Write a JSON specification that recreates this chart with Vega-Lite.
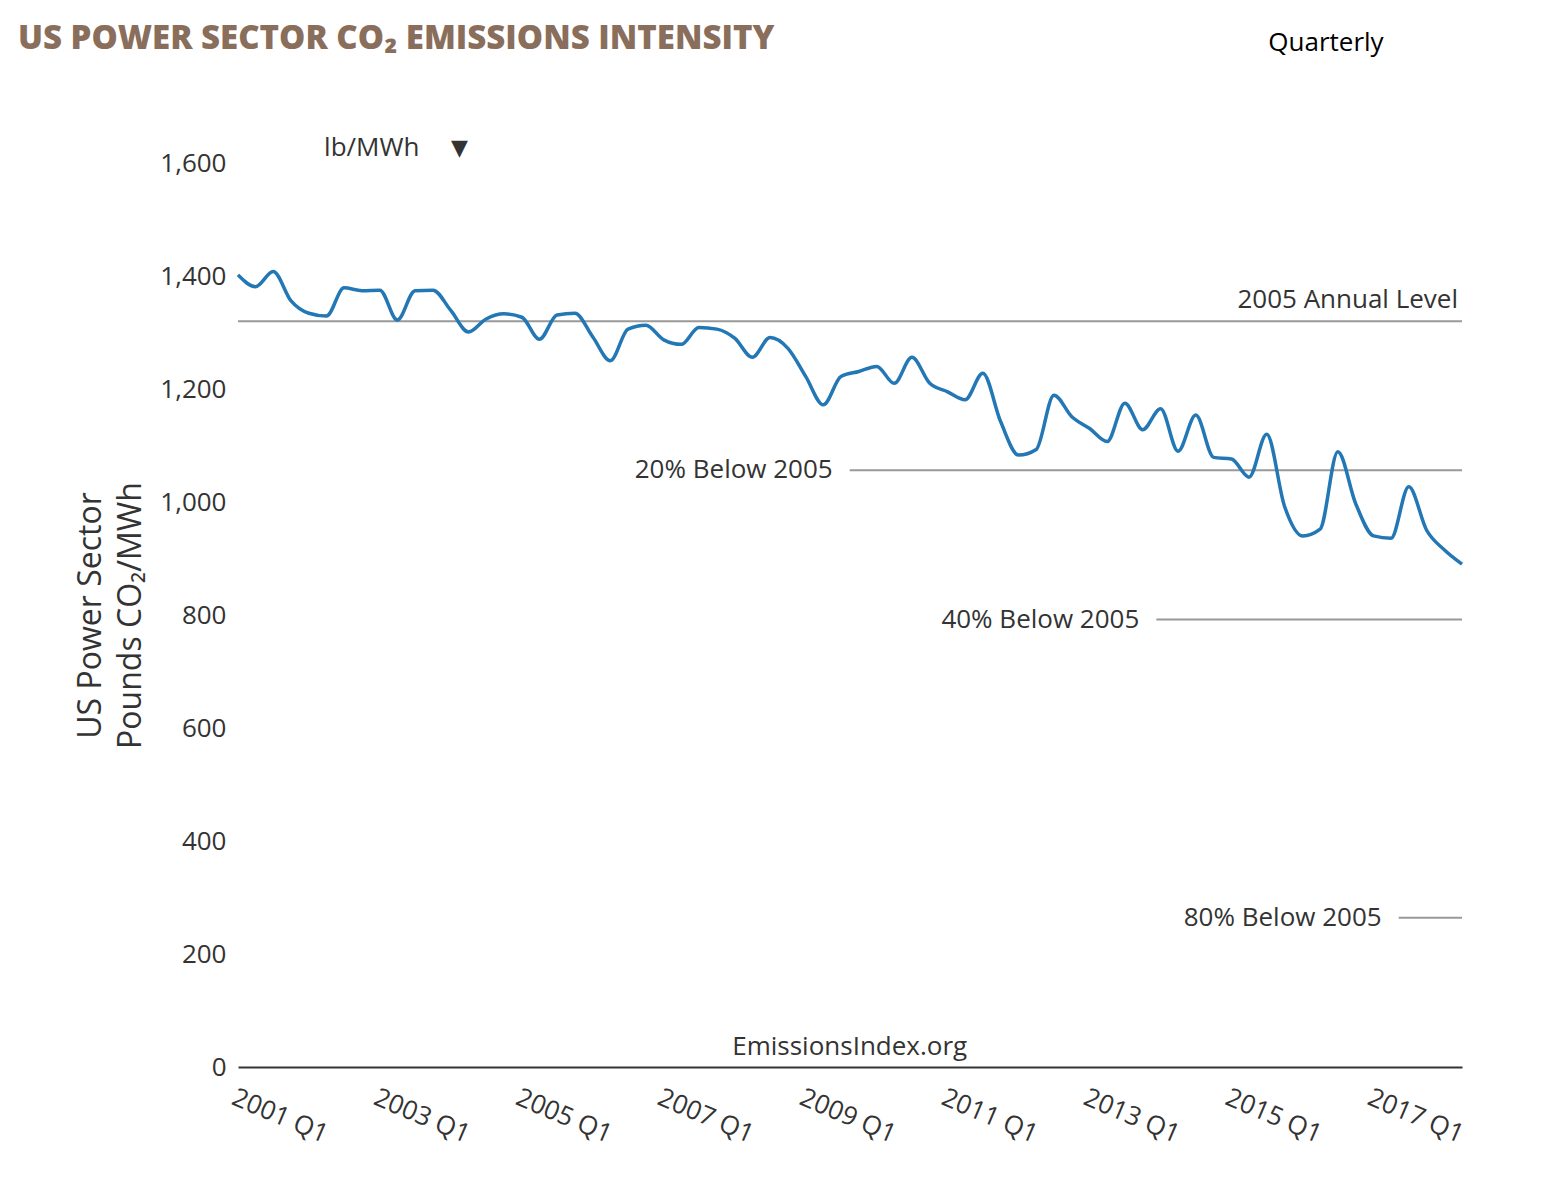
{
  "$schema": "https://vega.github.io/schema/vega-lite/v6.json",
  "width": 1224,
  "height": 904,
  "autosize": "none",
  "padding": {"left": 238, "top": 163, "right": 100, "bottom": 125},
  "background": "white",
  "config": {"view": {"stroke": null}, "font": "Open Sans"},
  "title": {
    "text": "US POWER SECTOR CO₂ EMISSIONS INTENSITY",
    "anchor": "start",
    "frame": "group",
    "dx": -220,
    "offset": 0,
    "dy": 26,
    "fontSize": 33,
    "fontWeight": 800,
    "color": "#8a6e5c",
    "font": "Open Sans"
  },
  "datasets": {
    "series": [
      {"date": "2001-01-01", "value": 1402}, {"date": "2001-04-01", "value": 1381}, {"date": "2001-07-01", "value": 1408}, {"date": "2001-10-01", "value": 1356},
      {"date": "2002-01-01", "value": 1334}, {"date": "2002-04-01", "value": 1329}, {"date": "2002-07-01", "value": 1379}, {"date": "2002-10-01", "value": 1374},
      {"date": "2003-01-01", "value": 1375}, {"date": "2003-04-01", "value": 1322}, {"date": "2003-07-01", "value": 1374}, {"date": "2003-10-01", "value": 1375},
      {"date": "2004-01-01", "value": 1339}, {"date": "2004-04-01", "value": 1301}, {"date": "2004-07-01", "value": 1324}, {"date": "2004-10-01", "value": 1333},
      {"date": "2005-01-01", "value": 1327}, {"date": "2005-04-01", "value": 1288}, {"date": "2005-07-01", "value": 1331}, {"date": "2005-10-01", "value": 1334},
      {"date": "2006-01-01", "value": 1292}, {"date": "2006-04-01", "value": 1250}, {"date": "2006-07-01", "value": 1306}, {"date": "2006-10-01", "value": 1313},
      {"date": "2007-01-01", "value": 1287}, {"date": "2007-04-01", "value": 1279}, {"date": "2007-07-01", "value": 1309}, {"date": "2007-10-01", "value": 1306},
      {"date": "2008-01-01", "value": 1290}, {"date": "2008-04-01", "value": 1256}, {"date": "2008-07-01", "value": 1291}, {"date": "2008-10-01", "value": 1272},
      {"date": "2009-01-01", "value": 1222}, {"date": "2009-04-01", "value": 1172}, {"date": "2009-07-01", "value": 1222}, {"date": "2009-10-01", "value": 1231},
      {"date": "2010-01-01", "value": 1240}, {"date": "2010-04-01", "value": 1210}, {"date": "2010-07-01", "value": 1256}, {"date": "2010-10-01", "value": 1210},
      {"date": "2011-01-01", "value": 1195}, {"date": "2011-04-01", "value": 1181}, {"date": "2011-07-01", "value": 1228}, {"date": "2011-10-01", "value": 1142},
      {"date": "2012-01-01", "value": 1083}, {"date": "2012-04-01", "value": 1093}, {"date": "2012-07-01", "value": 1189}, {"date": "2012-10-01", "value": 1151},
      {"date": "2013-01-01", "value": 1130}, {"date": "2013-04-01", "value": 1107}, {"date": "2013-07-01", "value": 1175}, {"date": "2013-10-01", "value": 1128},
      {"date": "2014-01-01", "value": 1165}, {"date": "2014-04-01", "value": 1090}, {"date": "2014-07-01", "value": 1154}, {"date": "2014-10-01", "value": 1079},
      {"date": "2015-01-01", "value": 1076}, {"date": "2015-04-01", "value": 1044}, {"date": "2015-07-01", "value": 1120}, {"date": "2015-10-01", "value": 992},
      {"date": "2016-01-01", "value": 940}, {"date": "2016-04-01", "value": 952}, {"date": "2016-07-01", "value": 1089}, {"date": "2016-10-01", "value": 997},
      {"date": "2017-01-01", "value": 940}, {"date": "2017-04-01", "value": 936}, {"date": "2017-07-01", "value": 1027}, {"date": "2017-10-01", "value": 950},
      {"date": "2018-01-01", "value": 915}, {"date": "2018-04-01", "value": 890}
    ],
    "levels": [
      {"label": "2005 Annual Level", "value": 1320, "start": "2001-01-01", "end": "2018-04-01"},
      {"label": "20% Below 2005", "value": 1056, "start": "2009-08-15", "end": "2018-04-01"},
      {"label": "40% Below 2005", "value": 792, "start": "2013-12-10", "end": "2018-04-01"},
      {"label": "80% Below 2005", "value": 264, "start": "2017-05-10", "end": "2018-04-01"}
    ],
    "notes": [
      {"text": "EmissionsIndex.org", "date": "2009-08-15", "value": 35, "kind": "source"},
      {"text": "lb/MWh", "date": "2002-03-20", "value": 1627, "kind": "unit"},
      {"text": "Quarterly", "date": "2016-05-01", "value": 1812, "kind": "period"}
    ]
  },
  "layer": [
    {
      "data": {"name": "levels"},
      "mark": {"type": "rule", "color": "#999999", "strokeWidth": 2},
      "encoding": {
        "x": {"field": "start", "type": "temporal", "scale": {"type": "utc"}},
        "x2": {"field": "end"},
        "y": {"field": "value", "type": "quantitative"}
      }
    },
    {
      "data": {"name": "levels"},
      "transform": [{"filter": "datum.label !== '2005 Annual Level'"}],
      "mark": {"type": "text", "align": "right", "baseline": "middle", "dx": -17, "fontSize": 26, "color": "#333333", "font": "Open Sans"},
      "encoding": {
        "x": {"field": "start", "type": "temporal"},
        "y": {"field": "value", "type": "quantitative"},
        "text": {"field": "label"}
      }
    },
    {
      "data": {"name": "levels"},
      "transform": [{"filter": "datum.label === '2005 Annual Level'"}],
      "mark": {"type": "text", "align": "right", "baseline": "middle", "dx": -4, "dy": -21, "fontSize": 26, "color": "#333333", "font": "Open Sans"},
      "encoding": {
        "x": {"field": "end", "type": "temporal"},
        "y": {"field": "value", "type": "quantitative"},
        "text": {"field": "label"}
      }
    },
    {
      "data": {"name": "series"},
      "mark": {"type": "line", "color": "#2277b4", "strokeWidth": 3.5, "interpolate": "monotone"},
      "encoding": {
        "x": {
          "field": "date",
          "type": "temporal",
          "scale": {"type": "utc", "domain": [{"year": 2001, "month": 1, "date": 1, "utc": true}, {"year": 2018, "month": 4, "date": 1, "utc": true}]},
          "axis": {
            "title": null,
            "values": [
              {"year": 2001, "month": 1, "date": 1, "utc": true},
              {"year": 2003, "month": 1, "date": 1, "utc": true},
              {"year": 2005, "month": 1, "date": 1, "utc": true},
              {"year": 2007, "month": 1, "date": 1, "utc": true},
              {"year": 2009, "month": 1, "date": 1, "utc": true},
              {"year": 2011, "month": 1, "date": 1, "utc": true},
              {"year": 2013, "month": 1, "date": 1, "utc": true},
              {"year": 2015, "month": 1, "date": 1, "utc": true},
              {"year": 2017, "month": 1, "date": 1, "utc": true}
            ],
            "labelExpr": "utcFormat(datum.value, '%Y') + ' Q1'",
            "labelAngle": 23,
            "labelAlign": "left",
            "labelBaseline": "top",
            "labelFontSize": 26,
            "labelColor": "#333333",
            "labelFont": "Open Sans",
            "labelPadding": 17,
            "labelOverlap": false,
            "labelFlush": false,
            "ticks": false,
            "grid": false,
            "domainColor": "#333333",
            "domainWidth": 2
          }
        },
        "y": {
          "field": "value",
          "type": "quantitative",
          "scale": {"domain": [0, 1600], "nice": false, "zero": true},
          "axis": {
            "title": ["US Power Sector", "Pounds CO₂/MWh"],
            "titleFontSize": 32,
            "titleLineHeight": 40,
            "titleFontWeight": "normal",
            "titleColor": "#333333",
            "titleFont": "Open Sans",
            "titlePadding": 12,
            "values": [0, 200, 400, 600, 800, 1000, 1200, 1400, 1600],
            "format": ",d",
            "labelFontSize": 26,
            "labelColor": "#333333",
            "labelFont": "Open Sans",
            "labelPadding": 12,
            "domain": false,
            "ticks": false,
            "grid": false
          }
        }
      }
    },
    {
      "data": {"name": "notes"},
      "transform": [{"filter": "datum.kind === 'source'"}],
      "mark": {"type": "text", "align": "center", "baseline": "middle", "fontSize": 26, "color": "#333333", "font": "Open Sans"},
      "encoding": {
        "x": {"field": "date", "type": "temporal"},
        "y": {"field": "value", "type": "quantitative"},
        "text": {"field": "text"}
      }
    },
    {
      "data": {"name": "notes"},
      "transform": [{"filter": "datum.kind === 'unit'"}],
      "mark": {"type": "text", "align": "left", "baseline": "middle", "fontSize": 26, "color": "#333333", "font": "Open Sans"},
      "encoding": {
        "x": {"field": "date", "type": "temporal"},
        "y": {"field": "value", "type": "quantitative"},
        "text": {"field": "text"}
      }
    },
    {
      "data": {"name": "notes"},
      "transform": [{"filter": "datum.kind === 'unit'"}],
      "mark": {"type": "text", "align": "left", "baseline": "middle", "dx": 127, "fontSize": 22, "color": "#333333", "font": "DejaVu Sans", "text": "▼"},
      "encoding": {
        "x": {"field": "date", "type": "temporal"},
        "y": {"field": "value", "type": "quantitative"}
      }
    },
    {
      "data": {"name": "notes"},
      "transform": [{"filter": "datum.kind === 'period'"}],
      "mark": {"type": "text", "align": "center", "baseline": "middle", "fontSize": 26, "color": "#000000", "font": "Open Sans"},
      "encoding": {
        "x": {"field": "date", "type": "temporal"},
        "y": {"field": "value", "type": "quantitative"},
        "text": {"field": "text"}
      }
    }
  ]
}
